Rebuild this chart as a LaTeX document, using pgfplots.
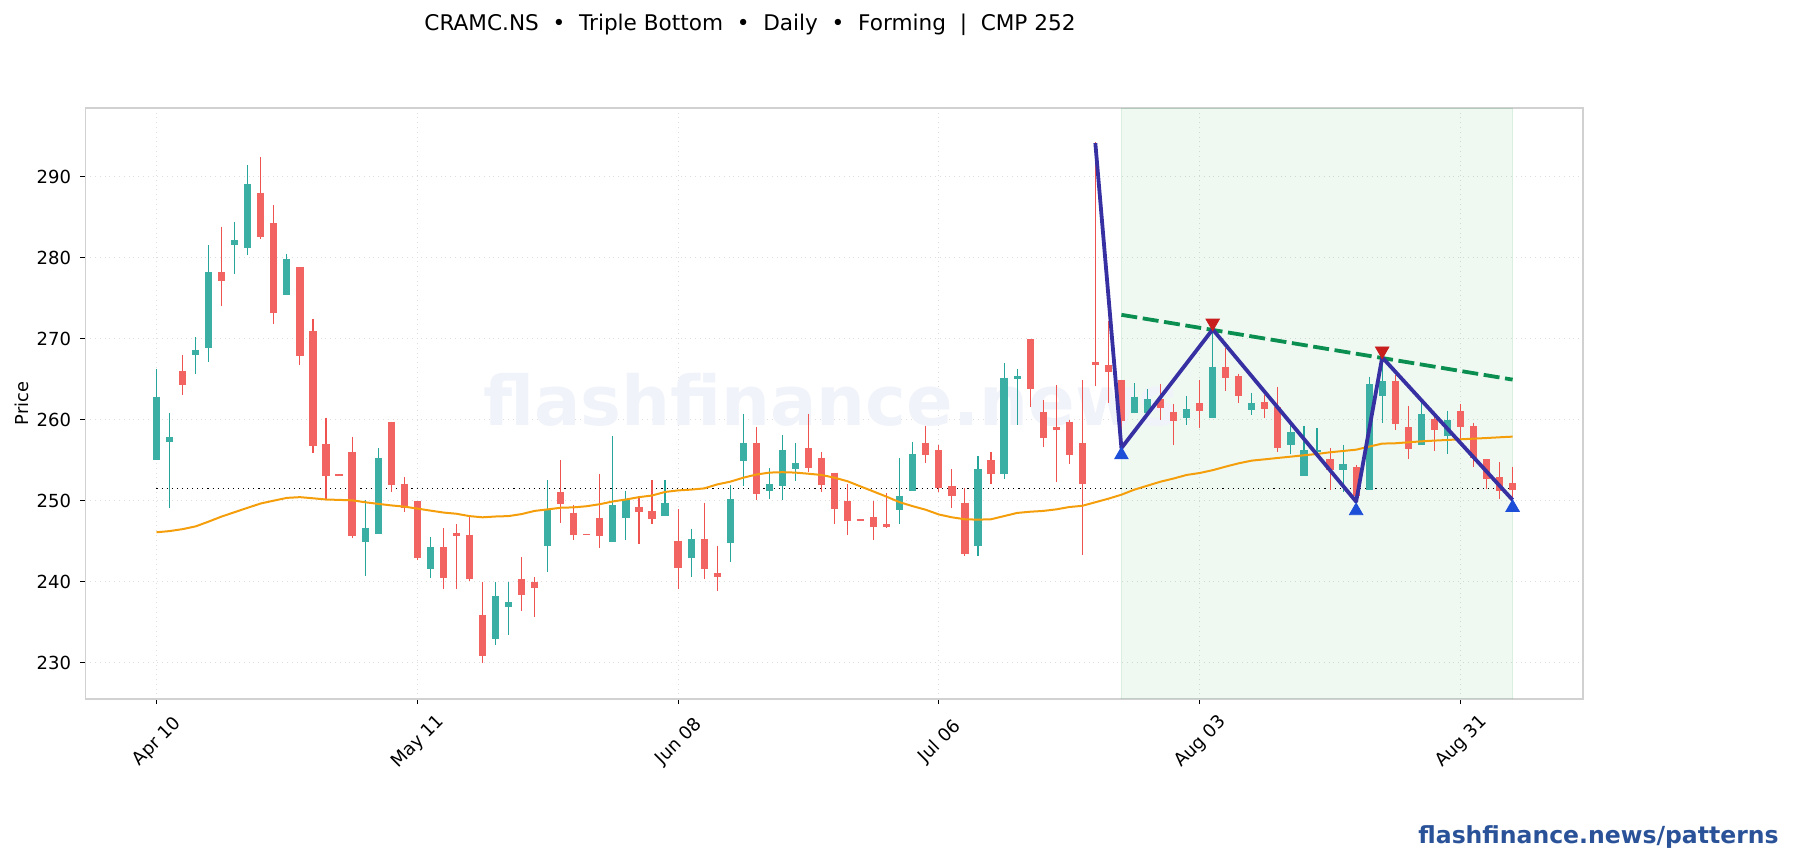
\documentclass[border=0pt]{standalone}
\usepackage{pgfplots}
\usepackage{pgfplotstable}
\usepackage{fontspec}
\pgfplotsset{compat=1.18}
\setmainfont{DejaVu Sans}
\definecolor{upc}{HTML}{26A69A}
\definecolor{dnc}{HTML}{EF5350}
\definecolor{HTMLgreen}{HTML}{0B8F50}
\definecolor{HTMLblue}{HTML}{3730A3}
\definecolor{HTMLtri}{HTML}{1D4ED8}
\definecolor{HTMLred}{HTML}{C81E1E}
\definecolor{shade}{HTML}{16A34A}
\definecolor{wm}{HTML}{F0F3F9}
\definecolor{emac}{HTML}{F59E0B}
\definecolor{brand}{HTML}{2A5298}
\pgfplotstableread{
x hi top bot lo
0 266.2 262.8 255.1 255.1
1 260.84 257.87 257.28 249.03
3 270.12 268.61 268.02 265.63
4 281.5 278.13 268.95 267.09
6 284.38 282.09 281.69 277.93
7 291.41 289.02 281.21 280.23
10 280.47 279.84 275.49 275.49
16 250 246.64 245.02 240.63
17 256.45 255.28 246 246
21 245.46 244.19 241.65 240.43
26 239.94 238.14 233.01 232.13
27 239.94 237.41 236.97 233.4
30 252.45 248.98 244.54 241.21
35 257.91 249.37 245.02 245.02
36 251.18 250 247.95 245.07
39 252.54 249.71 248.2 248.2
41 246.49 245.27 243.02 240.48
44 251.91 250.1 244.88 242.39
45 260.7 257.04 255.03 251.76
47 254.01 252.05 251.32 250.1
48 258.01 256.16 251.91 250
49 257.04 254.55 254.01 252.35
57 255.23 250.59 248.98 247.03
58 257.23 255.77 251.32 251.32
63 255.47 253.91 244.54 243.12
65 266.95 265.14 253.42 252.64
66 266.2 265.29 265.14 259.28
75 264.51 262.8 260.94 260.94
76 263.77 262.46 260.94 260.84
79 262.9 261.23 260.31 259.28
81 270.85 266.51 260.31 260.31
84 263.29 262.06 261.33 260.5
87 259.79 258.39 257 255.68
88 259.22 256.17 253.17 253.17
89 258.89 256.17 256.05 255.39
91 256.87 254.44 253.91 251.03
93 265.27 264.32 251.44 251.44
94 267.74 264.69 263.04 259.51
97 261.97 260.62 257 257
99 261.07 259.88 258.02 255.68
}\upt
\pgfplotstableread{
x hi top bot lo
2 267.92 266.02 264.41 262.94
5 283.79 278.13 277.25 273.93
8 292.44 287.99 282.67 282.23
9 286.48 284.19 273.3 271.73
11 278.86 278.86 267.88 266.7
12 272.42 270.85 256.84 255.86
13 260.21 256.89 253.18 250.1
14 253.23 253.23 253.18 253.18
15 257.87 256.01 245.76 245.32
18 259.72 259.72 252.05 251.08
19 252.93 251.96 249.22 248.54
20 249.86 249.86 243.02 242.58
22 246.54 244.19 240.58 239.02
23 247.03 246 245.76 239.11
24 247.9 245.76 240.43 239.99
25 239.94 235.79 230.91 229.93
28 243.02 240.34 238.48 236.28
29 240.53 239.9 239.31 235.6
31 254.98 250.98 249.71 247.17
32 249.37 248.49 245.85 245.07
33 245.9 245.9 245.85 245.85
34 253.28 247.86 245.76 244.05
37 250.59 249.22 248.73 244.58
38 252.45 248.73 247.86 247.03
40 248.98 245.02 241.8 239.02
42 249.71 245.27 241.65 240.24
43 244.39 240.97 240.68 238.77
46 258.99 257.04 250.93 250
50 260.7 256.4 254.15 253.52
51 255.96 255.18 252.05 251.08
52 253.42 253.42 249.08 247.03
53 251.96 249.95 247.61 245.66
54 247.66 247.66 247.61 247.61
55 249.91 248 246.88 245.07
56 250.93 247.03 246.88 246.54
59 259.23 257.04 255.77 254.55
60 256.84 256.25 251.66 251.08
61 253.86 251.71 250.69 249.03
62 251.47 249.71 243.51 243.12
64 255.96 255.03 253.42 251.96
67 269.88 269.88 263.92 261.48
68 262.41 260.94 257.87 256.64
69 264.26 258.99 258.84 252.2
70 259.97 259.62 255.77 254.45
71 264.85 257.04 252.15 243.27
72 294.2 267.05 266.8 264.16
73 272.08 266.75 266.02 262.06
74 264.9 264.9 259.97 256.45
77 264.41 262.55 261.53 259.97
78 261.92 260.94 259.97 256.79
80 264.9 261.97 261.19 258.89
82 268.75 266.51 265.24 263.53
83 265.63 265.29 263.04 261.97
85 263 262.1 261.44 260.12
86 263.95 261.48 256.63 256.01
90 256.42 255.06 253.91 251.28
92 254.36 254.07 250.7 250.25
95 265.47 264.69 259.59 258.68
96 261.69 259.01 256.5 255.06
98 260.86 260 258.85 256.05
100 261.93 260.99 259.22 257.45
101 259.59 259.14 255.31 254.07
102 255.06 255.06 252.8 251.44
103 254.69 252.84 251.23 250.12
104 254.07 252.1 251.44 250.04
}\dnt
\pgfplotstableread{
x y
0 246.05
1 246.2
2 246.44
3 246.78
4 247.37
5 248
6 248.54
7 249.08
8 249.61
9 249.96
10 250.3
11 250.39
12 250.25
13 250.1
14 250.05
15 250
16 249.76
17 249.56
18 249.37
19 249.22
20 248.98
21 248.73
22 248.49
23 248.34
24 248.05
25 247.9
26 248
27 248.05
28 248.3
29 248.69
30 248.88
31 249.08
32 249.13
33 249.27
34 249.52
35 249.86
36 250.1
37 250.39
38 250.59
39 251.03
40 251.22
41 251.32
42 251.47
43 251.96
44 252.3
45 252.79
46 253.18
47 253.42
48 253.47
49 253.42
50 253.28
51 253.13
52 252.79
53 252.35
54 251.71
55 251.08
56 250.44
57 249.76
58 249.27
59 248.83
60 248.25
61 247.9
62 247.66
63 247.61
64 247.66
65 248.05
66 248.44
67 248.59
68 248.69
69 248.88
70 249.17
71 249.32
72 249.76
73 250.2
74 250.69
75 251.32
76 251.81
77 252.3
78 252.69
79 253.13
80 253.37
81 253.72
82 254.16
83 254.57
84 254.9
85 255.06
86 255.23
87 255.39
88 255.56
89 255.72
90 255.93
91 256.09
92 256.25
93 256.63
94 257
95 257.04
96 257.16
97 257.28
98 257.37
99 257.45
100 257.53
101 257.61
102 257.69
103 257.78
104 257.86
}\ema
\begin{document}
\begin{tikzpicture}[x=1pt,y=1pt]
\path[use as bounding box] (0,0) rectangle (896.5,430);
\node[font=\fontsize{10.8pt}{12pt}\selectfont,anchor=center] at (375,417.8) {CRAMC.NS\ \ •\ \ Triple Bottom\ \ •\ \ Daily\ \ •\ \ Forming\ \ |\ \ CMP 252};
\node[font=\fontsize{11.76pt}{13pt}\selectfont\bfseries,text=brand,anchor=east,inner sep=0pt] at (889.5,11.5) {flashfinance.news/patterns};
\begin{axis}[
  at={(42.65pt,80.5pt)},anchor=south west,
  scale only axis,width=748.85pt,height=295.35pt,
  xmin=-5.46,xmax=109.4,ymin=225.47,ymax=298.4,
  xtick={0,20,40,60,80,100},
  xticklabels={Apr 10,May 11,Jun 08,Jul 06,Aug 03,Aug 31},
  ytick={230,240,250,260,270,280,290},
  xtick pos=bottom,ytick pos=left,tick align=outside,
  major tick length=2.6pt,
  tick style={black,line width=0.5pt},
  axis line style={color=black!18,line width=0.8pt},
  grid=major,
  grid style={dotted,color=black!13,line width=0.5pt},
  ylabel={Price},
  ylabel style={font=\fontsize{8.9pt}{10pt}\selectfont,at={(axis description cs:-0.033,0.5)},anchor=south},
  tick label style={font=\fontsize{9pt}{10pt}\selectfont,/pgf/number format/assume math mode=true},
  xticklabel style={xshift=0.5pt,yshift=-18.9pt,rotate=45,anchor=center},
  yticklabel style={xshift=-1pt,yshift=-0.5pt},
  clip=true,
]
\addplot[draw=shade,line width=0.3pt,fill=shade,fill opacity=0.07,draw opacity=0.1] coordinates {(74,225.47) (104,225.47) (104,298.4) (74,298.4)} -- cycle;
\node[font=\fontsize{34.4pt}{40pt}\selectfont\bfseries,text=wm,anchor=center] at (axis cs:51.75,262.4) {flashfinance.news};
\addplot[black,dotted,line width=0.55pt] coordinates {(0,251.45) (104,251.45)};
\addplot[draw=none,no markers,error bars/.cd,y dir=minus,y explicit,error mark=none,error bar style={draw=upc,line width=0.55pt}] table[x=x,y=hi,y error expr=\thisrow{hi}-\thisrow{lo}] {\upt};
\addplot[draw=none,no markers,error bars/.cd,y dir=minus,y explicit,error mark=none,error bar style={draw=dnc,line width=0.55pt}] table[x=x,y=hi,y error expr=\thisrow{hi}-\thisrow{lo}] {\dnt};
\addplot[draw=none,no markers,error bars/.cd,y dir=minus,y explicit,error mark=none,error bar style={draw=upc!90!white,line width=3.6pt}] table[x=x,y=top,y error expr=\thisrow{top}-\thisrow{bot}+0.12] {\upt};
\addplot[draw=none,no markers,error bars/.cd,y dir=minus,y explicit,error mark=none,error bar style={draw=dnc!90!white,line width=3.6pt}] table[x=x,y=top,y error expr=\thisrow{top}-\thisrow{bot}+0.12] {\dnt};
\addplot[color=emac,line width=1pt] table[x=x,y=y] {\ema};
\addplot[color=HTMLgreen,line width=1.9pt,dash pattern=on 8pt off 2.8pt] coordinates {(74,272.9) (104,264.9)};
\addplot[color=HTMLblue,line width=1.9pt,line join=round] coordinates {(72,294.1) (74,256.45) (81,271.1) (92,249.84) (94,267.65) (104,250.04)};
\addplot[only marks,mark=triangle*,mark size=3.9pt,color=HTMLtri,mark options={draw=HTMLtri,fill=HTMLtri}] coordinates {(74,255.6) (92,248.7) (104,249.1)};
\addplot[only marks,mark=triangle*,mark size=3.9pt,color=HTMLred,mark options={rotate=180,draw=HTMLred,fill=HTMLred}] coordinates {(81,271.9) (94,268.45)};
\end{axis}
\end{tikzpicture}
\end{document}
